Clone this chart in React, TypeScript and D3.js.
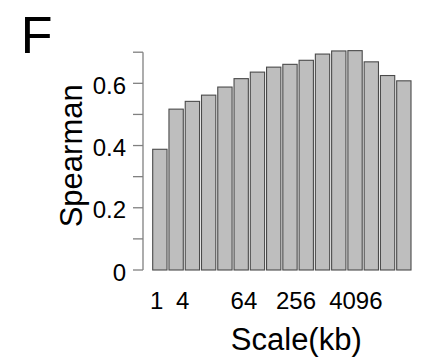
import React from "react";
import * as d3 from "d3";

const categories = ["1", "2", "4", "8", "16", "32", "64", "128", "256", "512", "1024", "2048", "4096", "8192", "16384", "32768"];
const spearman = [0.388, 0.517, 0.542, 0.562, 0.588, 0.615, 0.636, 0.652, 0.661, 0.674, 0.694, 0.704, 0.705, 0.669, 0.625, 0.608];
const yTicks = [0, 0.1, 0.2, 0.3, 0.4, 0.5, 0.6, 0.7];
const yTickLabels = ["0", "", "0.2", "", "0.4", "", "0.6", ""];
const xTickLabels = ["1", "4", "64", "256", "4096"];
const xTickPos = [-0.2, 1.4, 5.17, 8.37, 12.05];

const W = 429;
const H = 361;
const FONT = "'Liberation Sans', Arial, Helvetica, sans-serif";

export default function App() {
  const x = d3.scaleBand<string>().domain(categories).range([152.7, 411]).paddingInner(0.12).paddingOuter(0);
  const y = d3.scaleLinear().domain([0, 0.7]).range([270, 52.2]);
  const step = x.step();
  const c0 = (x(categories[0]) as number) + x.bandwidth() / 2;
  const xPos = d3.scaleLinear().domain([0, 1]).range([c0, c0 + step]);
  const axisX = 143;

  return (
    <svg width={W} height={H} style={{ position: "absolute", left: 0, top: 0, background: "#fff" }} fontFamily={FONT}>
      <text x={20.7} y={53.3} fontSize={52} fill="#000">F</text>
      {/* bars */}
      {spearman.map((v, i) => (
        <rect
          key={i}
          x={x(categories[i])}
          y={y(v)}
          width={x.bandwidth()}
          height={y(0) - y(v)}
          fill="#bebebe"
          stroke="#4a4a4a"
          strokeWidth={1.1}
        />
      ))}
      {/* y axis */}
      <line x1={axisX} x2={axisX} y1={y(0)} y2={y(0.7)} stroke="#808080" strokeWidth={1.3} />
      {yTicks.map((t, i) => (
        <g key={i}>
          <line x1={axisX - 10} x2={axisX} y1={y(t)} y2={y(t)} stroke="#808080" strokeWidth={1.3} />
          {yTickLabels[i] && (
            <text x={126} y={y(t) + 10.7} fontSize={24} textAnchor="end" fill="#000">
              {yTickLabels[i]}
            </text>
          )}
        </g>
      ))}
      {/* x tick labels */}
      {xTickLabels.map((l, i) => (
        <text key={l} x={xPos(xTickPos[i])} y={309} fontSize={24} textAnchor="middle" fill="#000">
          {l}
        </text>
      ))}
      <text x={296.3} y={350.3} fontSize={31} textAnchor="middle" fill="#000">Scale(kb)</text>
      <text transform={`translate(81.5, 155.8) rotate(-90)`} fontSize={31} textAnchor="middle" fill="#000">Spearman</text>
    </svg>
  );
}
